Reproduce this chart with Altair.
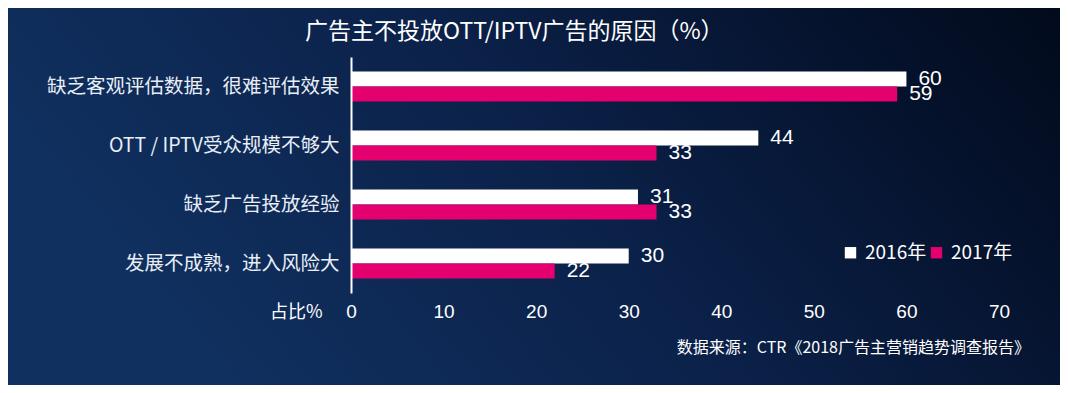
import altair as alt
import pandas as pd

categories = ["缺乏客观评估数据，很难评估效果", "OTT / IPTV受众规模不够大", "缺乏广告投放经验", "发展不成熟，进入风险大"]
years = ["2016年", "2017年"]
v2016 = [60, 44, 31, 30]
v2017 = [59, 33, 33, 22]
x_ticks = [0, 10, 20, 30, 40, 50, 60, 70]
title_text = "广告主不投放OTT/IPTV广告的原因（%）"
source_text = "数据来源：CTR《2018广告主营销趋势调查报告》"
x_title = "占比%"

rows = []
for c, a, b in zip(categories, v2016, v2017):
    rows.append({"category": c, "year": years[0], "value": a})
    rows.append({"category": c, "year": years[1], "value": b})
df = pd.DataFrame(rows)

W, H = 648, 236
PAD = {"left": 343, "top": 49, "right": 61, "bottom": 92}

CJK = "'Noto Sans CJK SC', 'Noto Sans', sans-serif"
NUM = "'Liberation Sans Narrow', 'Liberation Sans', sans-serif"

bg = alt.Chart(pd.DataFrame({"a": [0]})).mark_rect(
    color=alt.Gradient(
        gradient="linear",
        stops=[
            alt.GradientStop(color="#10305f", offset=0),
            alt.GradientStop(color="#0b2149", offset=0.45),
            alt.GradientStop(color="#05122c", offset=0.8),
            alt.GradientStop(color="#020b1c", offset=1),
        ],
        x1=0, x2=1, y1=0.3, y2=0.0,
    )
).encode(
    x=alt.value(-PAD["left"]), x2=alt.value(W + PAD["right"]),
    y=alt.value(-PAD["top"]), y2=alt.value(H + PAD["bottom"]),
)

y_enc = alt.Y(
    "category:N", sort=categories,
    scale=alt.Scale(paddingInner=0.49, paddingOuter=0.245),
    axis=alt.Axis(
        title=None, domain=True, domainColor="white", domainWidth=2,
        ticks=False, labelFontSize=19.5, labelColor="#e9eef7", labelFont=CJK,
        labelPadding=12, labelLimit=500, zindex=2,
    ),
)
x_enc = alt.X(
    "value:Q", scale=alt.Scale(domain=[0, 70], nice=False),
    axis=alt.Axis(
        values=x_ticks, grid=False, domain=False, ticks=False, labelFlush=False,
        labelFontSize=19, labelColor="white", labelFont=NUM, labelPadding=9,
        title=x_title, titleX=-29, titleY=19, titleAlign="right", titleBaseline="middle",
        titleFontSize=18, titleFontWeight="normal", titleColor="white", titleFont=CJK,
        zindex=2,
    ),
)
yoff = alt.YOffset("year:N", sort=years)

bars = alt.Chart(df).mark_bar().encode(
    x=x_enc, y=y_enc, yOffset=yoff,
    color=alt.Color(
        "year:N", sort=years,
        scale=alt.Scale(domain=years, range=["#ffffff", "#e4006e"]),
        legend=alt.Legend(
            orient="none", legendX=490, legendY=186, direction="horizontal",
            title=None, symbolType="square", symbolSize=130, symbolStrokeWidth=0,
            symbolOpacity=1, labelFontSize=19, labelColor="white", labelFont=CJK,
            labelOffset=5, columnPadding=-4, zindex=2,
        ),
    ),
)

labels = alt.Chart(df).mark_text(
    align="left", baseline="middle", dx=12, fontSize=21, color="white", font="'Liberation Sans', sans-serif"
).encode(
    x="value:Q", y=alt.Y("category:N", sort=categories), yOffset=yoff, text="value:Q"
)

source = alt.Chart(pd.DataFrame({"t": [source_text]})).mark_text(
    align="right", baseline="middle", fontSize=16, color="white", font=CJK
).encode(x=alt.value(679), y=alt.value(291), text="t:N")

title = alt.Chart(pd.DataFrame({"t": [title_text]})).mark_text(
    align="left", baseline="middle", fontSize=23, color="white", font=CJK
).encode(x=alt.value(-46), y=alt.value(-25), text="t:N")

chart = alt.layer(bg, bars, labels, source, title).properties(
    width=W, height=H,
    padding=PAD,
    autosize=alt.AutoSizeParams(type="none"),
    background="#0a1f45",
).configure_view(stroke=None)

chart.save("out.html", embed_options={"renderer": "svg", "actions": False})
